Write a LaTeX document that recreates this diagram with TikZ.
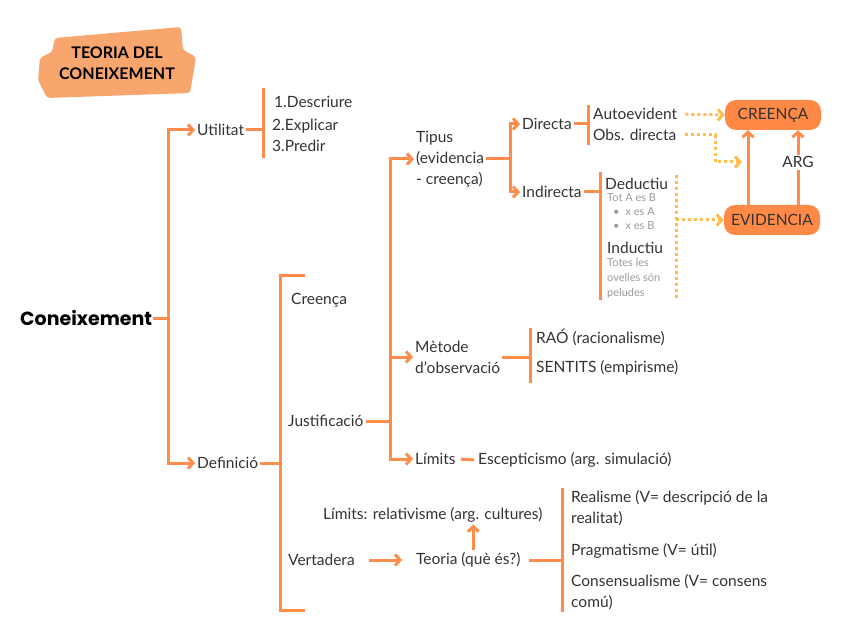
\documentclass[tikz,border=0pt]{standalone}
\usepackage{fontspec}
\setmainfont{Lato}
\newfontfamily\headfont{Poppins}
\usetikzlibrary{arrows.meta, positioning}

\definecolor{orangeline}{HTML}{FF8C4B}
\definecolor{orangefill}{HTML}{FF8A47}
\definecolor{titlefill}{HTML}{F9A56E}
\definecolor{dotorange}{HTML}{FFBC4F}
\definecolor{txtcol}{HTML}{333333}
\definecolor{smallgray}{HTML}{9A9A9A}

\begin{document}
\begin{tikzpicture}[
x=1pt, y=-1pt,
txt/.style={
    anchor=west,
    inner sep=2pt,
    text=txtcol,
    align=left,
    font=\fontsize{15.5}{21}\selectfont
},
small/.style={
    anchor=west,
    inner sep=1pt,
    text=smallgray,
    align=left,
    font=\fontsize{11}{15}\selectfont
},
pill/.style={
    fill=orangefill,
    rounded corners=11pt,
    minimum width=96pt,
    minimum height=30pt,
    text=txtcol,
    font=\fontsize{15.5}{17}\selectfont
},
line/.style={draw=orangeline, line width=3pt},
arrow/.style={line, -{Straight Barb[length=5pt, width=11pt]}},
dotline/.style={draw=dotorange, line width=3pt, dash pattern=on 3pt off 3pt},
dotarrow/.style={dotline, -{Straight Barb[length=5pt, width=11pt]}}
]

\fill[white] (0,0) rectangle (848,636);

% Title
\fill[titlefill, rounded corners=3pt] (55,38) -- (181,27) -- (183,50) -- (196,57) -- (190,93)
    -- (47,98) -- (38,80) -- (40,58) -- (52,52) -- cycle;
\node[align=center, text=black, font=\bfseries\fontsize{16}{21}\selectfont] (title) at (117,63) {TEORIA DEL\\CONEIXEMENT};

% Root and first level
\node[anchor=west, inner sep=1pt, font=\headfont\bfseries\fontsize{19}{22}\selectfont] (coneix) at (19,318) {Coneixement};
\node[txt] (utilitat) at (195,130) {Utilitat};
\node[txt] (definicio) at (195,463) {Definició};

\draw[line] (coneix.east) -- ++(15,0) coordinate (trunk);
\draw[arrow] (trunk) |- (utilitat.west);
\draw[arrow] (trunk) |- (definicio.west);

% Utilitat
\node[txt] (descriure) at (272,102) {1.Descriure};
\node[txt] (explicar) at (270,126) {2.Explicar};
\node[txt] (predir) at (270,146) {3.Predir};
\coordinate (ubr) at (263,130);
\draw[line] (utilitat.east) -- (ubr);
\draw[line] (ubr) ++(0,-42) -- ++(0,70);

% Definicio
\node[txt] (creenca) at (289,300) {Creença};
\node[txt] (just) at (286,421) {Justificació};
\node[txt] (vertadera) at (286,560) {Vertadera};
\coordinate (dbr) at (280,463);
\draw[line] (definicio.east) -- (dbr);
\draw[line] (dbr) ++(25,-188) -| (dbr) -- ++(0,147) -- ++(25,0);

% Justificacio
\node[txt] (tipus) at (414,159) {Tipus\\(evidencia\\- creença)};
\node[txt] (metode) at (413,357) {Mètode\\d'observació};
\node[txt] (limits) at (413,459) {Límits};
\coordinate (jbr) at (390,421);
\draw[line] (just.east) -- (jbr);
\draw[arrow] (jbr) |- (tipus.west);
\draw[arrow] (jbr) |- (metode.west);
\draw[arrow] (jbr) |- (limits.west);

% Tipus
\node[txt] (directa) at (520,124) {Directa};
\node[txt] (indirecta) at (520,192) {Indirecta};
\coordinate (tbr) at (510,159);
\draw[line] (tipus.east) -- (tbr);
\draw[arrow] (tbr) |- (directa.west);
\draw[arrow] (tbr) |- (indirecta.west);

% Directa
\node[txt] (autoev) at (591,114) {Autoevident};
\node[txt] (obsdir) at (591,135) {Obs. directa};
\coordinate (dirbr) at (588,124);
\draw[line] (directa.east) -- (dirbr);
\draw[line] (dirbr) ++(0,-19) -- ++(0,40);

% Creenca / evidencia
\node[pill] (creen) at (773,115) {CREENÇA};
\node[pill] (evid) at (772,220) {EVIDENCIA};
\draw[arrow] ([xshift=-24pt]evid.north) -- ([xshift=-25pt]creen.south);
\draw[arrow] ([xshift=26pt]evid.north) -- node[pos=0.57, fill=white, text=txtcol, inner sep=2pt, font=\fontsize{15.5}{17}\selectfont] {ARG} ([xshift=25pt]creen.south);

\draw[dotarrow, shorten <=6pt] (autoev.east) -- (creen.west);
\coordinate (obsbend) at (715,162);
\coordinate (obsend) at (742,162);
\draw[dotarrow] ([xshift=6pt]obsdir.east) -| (obsbend) -- (obsend);

% Indirecta
\node[txt] (deductiu) at (603,184) {Deductiu};
\node[small] (totab) at (606,198) {Tot A es B};
\node[small] (xesa) at (612,212) {\textbullet\hspace{6pt}x es A};
\node[small] (xesb) at (612,226) {\textbullet\hspace{6pt}x es B};
\node[txt] (inductiu) at (605,248) {Inductiu};
\node[small] (ovelles) at (606,278) {Totes les\\ovelles són\\peludes};
\coordinate (indbr) at (600,192);
\draw[line] (indirecta.east) -- (indbr);
\draw[line] (indbr) ++(0,-20) -- ++(0,128);

\coordinate (dottop) at (676,175);
\coordinate (dotbot) at (676,300);
\draw[dotline] (dottop) -- (dotbot);
\draw[dotarrow] (dottop |- evid.west) -- (evid.west);

% Metode
\node[txt] (rao) at (534,337) {RAÓ (racionalisme)};
\node[txt] (sentits) at (534,368) {SENTITS (empirisme)};
\coordinate (mbr) at (530,357);
\draw[line] (metode.east) -- (mbr);
\draw[line] (mbr) ++(0,-29) -- ++(0,55);

% Limits
\node[txt] (escep) at (476,460) {Escepticismo (arg. simulació)};
\draw[line, shorten <=3pt, shorten >=2pt] (limits.east) -- (escep.west);

% Vertadera
\node[txt] (teoria) at (414,560) {Teoria (què és?)};
\node[txt] (relat) at (321,515) {Límits: relativisme (arg. cultures)};
\draw[arrow, shorten <=12pt, shorten >=12pt] (vertadera.east) -- (teoria.west);
\draw[arrow] ([xshift=5pt]teoria.north) -- ([xshift=5pt]teoria.north |- relat.south);

\node[txt] (realisme) at (569,508) {Realisme (V= descripció de la\\realitat)};
\node[txt] (pragma) at (569,551) {Pragmatisme (V= útil)};
\node[txt] (consens) at (569,592) {Consensualisme (V= consens\\comú)};
\coordinate (vbr) at (562,560);
\draw[line, shorten <=6pt] (teoria.east) -- (vbr);
\draw[line] (vbr) ++(0,-72) -- ++(0,124);

\end{tikzpicture}
\end{document}
